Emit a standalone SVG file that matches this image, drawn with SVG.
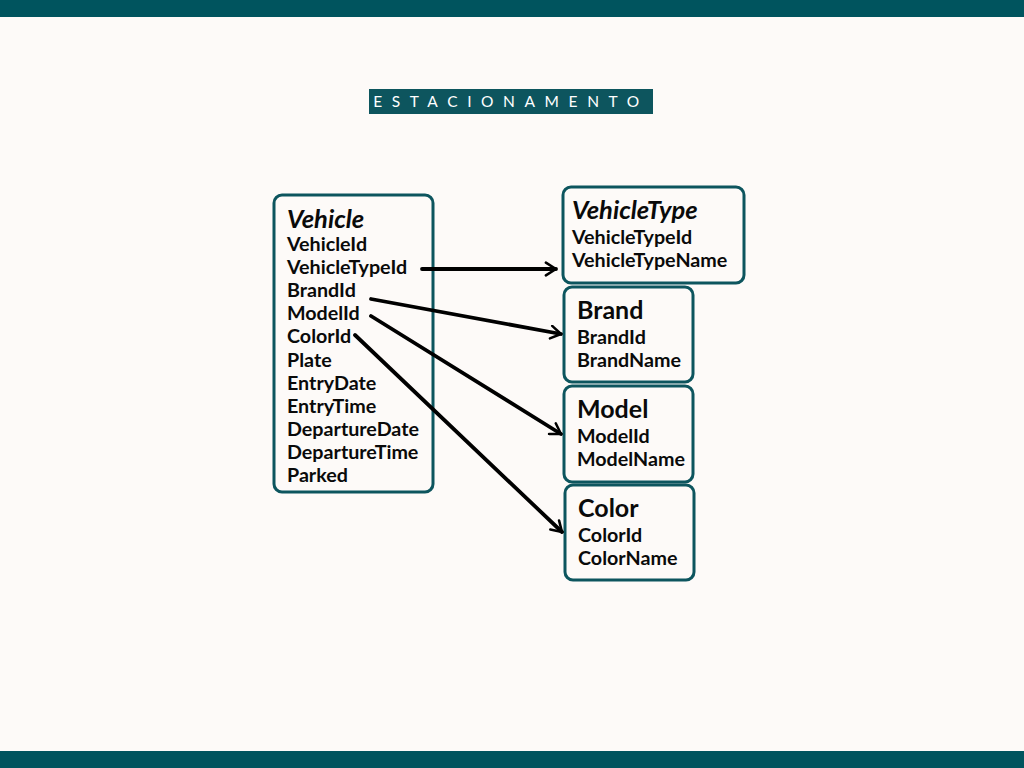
<svg xmlns="http://www.w3.org/2000/svg" width="1024" height="768" viewBox="0 0 1024 768">
<defs>
<style>
.box{fill:#fdfaf8;stroke:#0d555e;stroke-width:3}
.t{font-family:Lato,"Open Sans",sans-serif;font-weight:bold;fill:#0a0a0a}
.h{font-size:25px}
.hi{font-size:25.5px;font-style:italic}
.f{font-size:19.7px}
.c{stroke:#000;stroke-width:3.8;fill:none;stroke-linecap:round}
</style>
<marker id="ah" viewBox="0 0 12 12" refX="10" refY="6" markerWidth="4" markerHeight="4" orient="auto" markerUnits="strokeWidth">
<path d="M2,1 L10,6 L2,11" fill="none" stroke="#000" stroke-width="2" stroke-linecap="round" stroke-linejoin="round"/>
</marker>
</defs>
<rect width="1024" height="768" fill="#fdfaf8"/>
<rect x="0" y="0" width="1024" height="17" fill="#00545e"/>
<rect x="0" y="751" width="1024" height="17" fill="#00545e"/>
<g id="title">
<rect x="369" y="89" width="284" height="25" fill="#0d555e"/>
<text x="511" y="107" text-anchor="middle" font-family="Lato,'Open Sans',sans-serif" font-size="15.5" fill="#fff" letter-spacing="9.6">ESTACIONAMENTO</text>
</g>
<g id="vehicle">
<rect class="box" x="274" y="195" width="159" height="297" rx="8"/>
<text class="t hi" x="287" y="228">Vehicle</text>
<text class="t f" x="287" y="251">VehicleId</text>
<text class="t f" x="287" y="274">VehicleTypeId</text>
<text class="t f" x="287" y="297">BrandId</text>
<text class="t f" x="287" y="320">ModelId</text>
<text class="t f" x="287" y="343">ColorId</text>
<text class="t f" x="287" y="367">Plate</text>
<text class="t f" x="287" y="390">EntryDate</text>
<text class="t f" x="287" y="413">EntryTime</text>
<text class="t f" x="287" y="436">DepartureDate</text>
<text class="t f" x="287" y="459">DepartureTime</text>
<text class="t f" x="287" y="482">Parked</text>
</g>
<g id="vehicletype">
<rect class="box" x="563" y="187" width="181" height="96" rx="8"/>
<text class="t hi" x="572" y="219">VehicleType</text>
<text class="t f" x="572" y="244">VehicleTypeId</text>
<text class="t f" x="572" y="267">VehicleTypeName</text>
</g>
<g id="brand">
<rect class="box" x="564" y="287" width="129" height="95" rx="8"/>
<text class="t h" x="577" y="319">Brand</text>
<text class="t f" x="577" y="344">BrandId</text>
<text class="t f" x="577" y="367">BrandName</text>
</g>
<g id="model">
<rect class="box" x="564" y="386" width="129" height="96" rx="8"/>
<text class="t h" x="577" y="418">Model</text>
<text class="t f" x="577" y="443">ModelId</text>
<text class="t f" x="577" y="466">ModelName</text>
</g>
<g id="color">
<rect class="box" x="565" y="485" width="129" height="95" rx="8"/>
<text class="t h" x="578" y="517">Color</text>
<text class="t f" x="578" y="542">ColorId</text>
<text class="t f" x="578" y="565">ColorName</text>
</g>
<g id="connectors">
<line class="c" x1="422" y1="269" x2="556" y2="269" marker-end="url(#ah)"/>
<line class="c" x1="371" y1="299" x2="561" y2="334" marker-end="url(#ah)"/>
<line class="c" x1="371" y1="316" x2="561" y2="434" marker-end="url(#ah)"/>
<line class="c" x1="355" y1="335" x2="562" y2="532" marker-end="url(#ah)"/>
</g>
</svg>
